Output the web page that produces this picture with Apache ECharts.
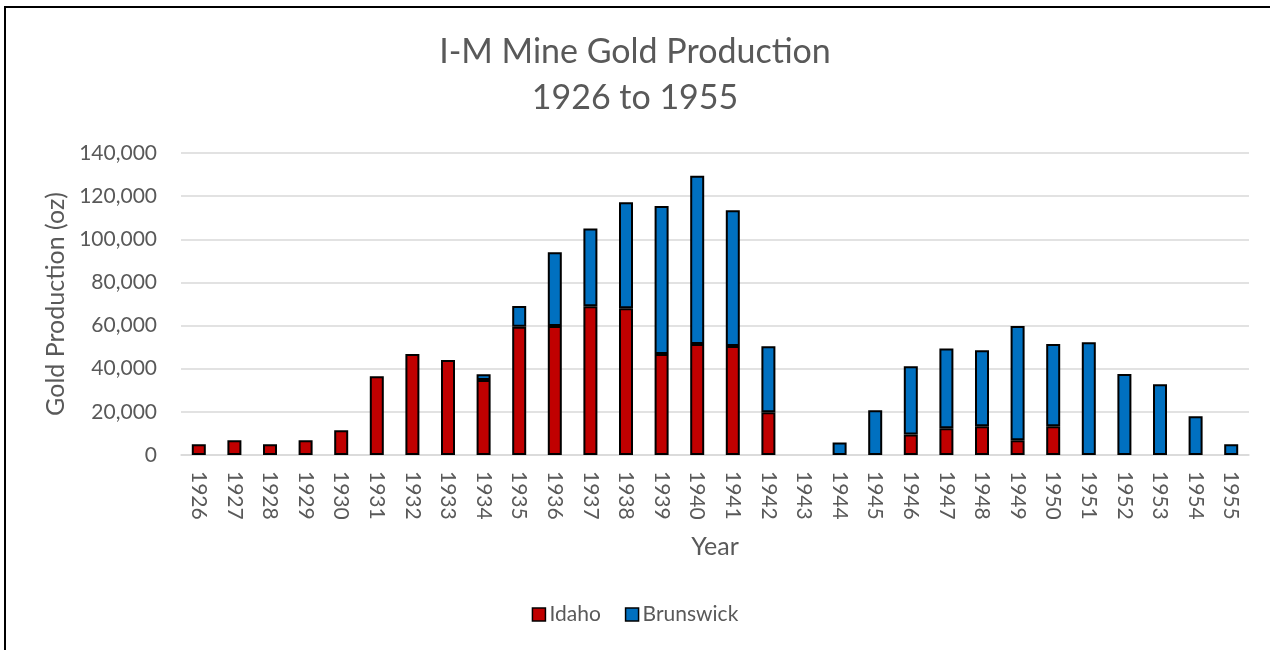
<!DOCTYPE html>
<html>
<head>
<meta charset="utf-8">
<script src="https://cdn.jsdelivr.net/npm/echarts@6/dist/echarts.min.js"></script>
<style>
  html, body { margin: 0; padding: 0; background: #fff; }
  #frame { position: absolute; left: 4px; top: 6px; width: 1300px; height: 700px; border-left: 2px solid #000; border-top: 2px solid #000; }
  #chart { position: absolute; left: 0; top: 0; width: 1270px; height: 650px; }
</style>
</head>
<body>
<div id="frame"></div>
<div id="chart"></div>
<script>
const years = ['1926','1927','1928','1929','1930','1931','1932','1933','1934','1935','1936','1937','1938','1939','1940','1941','1942','1943','1944','1945','1946','1947','1948','1949','1950','1951','1952','1953','1954','1955'];
const idaho = [5000, 6800, 5000, 6800, 11500, 36500, 46800, 44000, 34800, 59500, 59800, 69000, 68000, 46800, 51500, 50500, 19800, 0, 0, 0, 9500, 12400, 13300, 6800, 13300, 0, 0, 0, 0, 0];
const brunswick = [0, 0, 0, 0, 0, 0, 0, 0, 2600, 9600, 34200, 36000, 49200, 68600, 78000, 63000, 30600, 0, 5800, 20700, 31600, 37000, 35300, 53000, 38100, 52300, 37500, 32800, 18000, 5000];

const FONT = 'Lato';
const TXT = '#595959';
const noZero = arr => arr.map(v => (v === 0 ? '-' : v));

const chart = echarts.init(document.getElementById('chart'), null, { renderer: 'canvas' });
chart.setOption({
  backgroundColor: 'transparent',
  animation: false,
  title: {
    text: 'I-M Mine Gold Production\n1926 to 1955',
    left: 'center',
    top: 24,
    textStyle: { fontFamily: FONT, fontSize: 34, fontWeight: 'normal', color: TXT, lineHeight: 46 }
  },
  legend: {
    bottom: 20,
    left: 'center',
    itemWidth: 13,
    itemHeight: 13,
    itemGap: 24,
    icon: 'rect',
    textStyle: { fontFamily: FONT, fontSize: 21, color: TXT, padding: [0, 0, 0, -1] },
    itemStyle: { borderColor: '#000', borderWidth: 1.5 },
    data: ['Idaho', 'Brunswick']
  },
  grid: { left: 181, right: 21, top: 153, bottom: 195, containLabel: false },
  xAxis: {
    type: 'category',
    data: years,
    name: 'Year',
    nameLocation: 'middle',
    nameGap: 79,
    nameTextStyle: { fontFamily: FONT, fontSize: 25, color: TXT },
    axisLine: { lineStyle: { color: '#d9d9d9', width: 1.5 } },
    axisTick: { show: false },
    axisLabel: { rotate: -90, fontFamily: FONT, fontSize: 21, color: TXT, margin: 16, interval: 0 }
  },
  yAxis: {
    type: 'value',
    min: 0,
    max: 140000,
    interval: 20000,
    name: 'Gold Production (oz)',
    nameLocation: 'middle',
    nameGap: 110,
    nameTextStyle: { fontFamily: FONT, fontSize: 25, color: TXT },
    axisLine: { show: false },
    axisTick: { show: false },
    splitLine: { lineStyle: { color: '#d9d9d9', width: 1.5 } },
    axisLabel: {
      fontFamily: FONT, fontSize: 21, color: TXT, margin: 24,
      formatter: v => v.toLocaleString('en-US')
    }
  },
  series: [
    {
      name: 'Idaho', type: 'bar', stack: 'total', data: noZero(idaho),
      barWidth: 14,
      itemStyle: { color: '#C00000', borderColor: '#000', borderWidth: 2 }
    },
    {
      name: 'Brunswick', type: 'bar', stack: 'total', data: noZero(brunswick),
      barWidth: 14,
      itemStyle: { color: '#0070C0', borderColor: '#000', borderWidth: 2 }
    }
  ]
});
</script>
</body>
</html>
